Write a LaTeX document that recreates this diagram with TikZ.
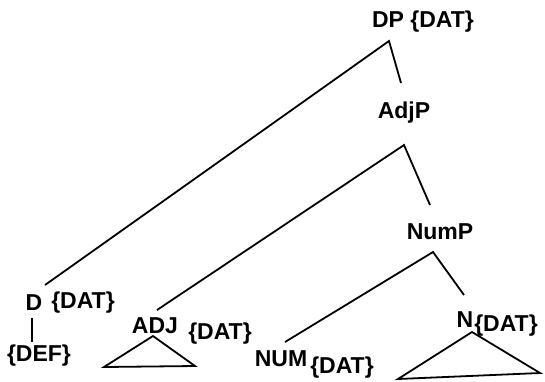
\documentclass[tikz,border=0pt]{standalone}
\usepackage{fontspec}
\setmainfont{Liberation Sans}
\begin{document}
\begin{tikzpicture}[x=1pt,y=-1pt,
  lab/.style={font=\fontsize{23}{25}\selectfont\bfseries, inner sep=0pt},
  edge/.style={line width=1.8pt, line join=miter}]
\useasboundingbox (0,0) rectangle (545,381);
% labels
\node[lab] (DP) at (423,22) {DP \{DAT\}};
\node[lab] (AdjP) at (404,113) {AdjP};
\node[lab] (NumP) at (440,232) {NumP};
\node[lab] (D) at (34,303) {D};
\node[lab] (Df) at (83,303) {\{DAT\}};
\node[lab] (DEF) at (39,356) {\{DEF\}};
\node[lab] (ADJ) at (155,326) {ADJ};
\node[lab] (ADJf) at (220,334) {\{DAT\}};
\node[lab] (NUM) at (281,359) {NUM};
\node[lab] (NUMf) at (342,368) {\{DAT\}};
\node[lab] (N) at (465,320) {N};
\node[lab] (Nf) at (506,326) {\{DAT\}};
% branch points
\coordinate (DPa) at (389,41);
\coordinate (AdjPup) at (401,83);
\coordinate (AdjPa) at (404,145);
\coordinate (Dup) at (45,285);
\coordinate (ADJup) at (157,310);
\coordinate (NumPup) at (430,205);
\coordinate (NumPa) at (433,252);
\coordinate (NUMup) at (285,342);
\coordinate (Nup) at (464,295);
\coordinate (Dlo) at (32,318);
\coordinate (DEFup) at (32,342);
\coordinate (ADJt) at (153,336);
\coordinate (ADJl) at (104,367);
\coordinate (ADJr) at (195,366);
\coordinate (Nt) at (472,332);
\coordinate (Nl) at (398,379);
\coordinate (Nr) at (540,373);
% edges
\draw[edge] (Dup) -- (DPa) -- (AdjPup);
\draw[edge] (ADJup) -- (AdjPa) -- (NumPup);
\draw[edge] (NUMup) -- (NumPa) -- (Nup);
\draw[edge] (Dlo) -- (DEFup);
\draw[edge] (ADJt) -- (ADJl) -- (ADJr) -- cycle;
\draw[edge] (Nt) -- (Nl) -- (Nr) -- cycle;
\end{tikzpicture}
\end{document}
